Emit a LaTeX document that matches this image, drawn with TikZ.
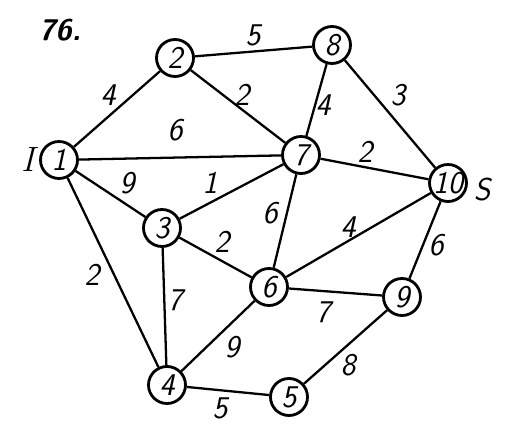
\documentclass[tikz,border=0pt]{standalone}
\usepackage{amsmath}
\usepackage{tikz}

\tikzset{
  vertex/.style={draw, circle, line width=1.6pt, minimum size=0.74cm, inner sep=0pt,
    font=\fontsize{18}{18}\selectfont\sffamily\itshape},
  lbl/.style={font=\fontsize{18}{18}\selectfont\sffamily\itshape},
  edge/.style={line width=1.3pt}
}

\begin{document}
\begin{tikzpicture}[x=0.02cm, y=-0.02cm]
\useasboundingbox (0,0) rectangle (507,448);

% vertices
\node[vertex] (n1) at (59,160) {1};
\node[vertex] (n2) at (175,58) {2};
\node[vertex] (n8) at (332,45) {8};
\node[vertex] (n7) at (301,155) {7};
\node[vertex] (n10) at (448,183) {10};
\node[vertex] (n3) at (162,228) {3};
\node[vertex] (n6) at (269,287) {6};
\node[vertex] (n9) at (402,297) {9};
\node[vertex] (n4) at (167,385) {4};
\node[vertex] (n5) at (289,397) {5};

% edges
\draw[edge] (n1) -- (n2);
\draw[edge] (n2) -- (n8);
\draw[edge] (n2) -- (n7);
\draw[edge] (n1) -- (n7);
\draw[edge] (n8) -- (n7);
\draw[edge] (n8) -- (n10);
\draw[edge] (n7) -- (n10);
\draw[edge] (n1) -- (n3);
\draw[edge] (n3) -- (n7);
\draw[edge] (n7) -- (n6);
\draw[edge] (n3) -- (n6);
\draw[edge] (n6) -- (n10);
\draw[edge] (n10) -- (n9);
\draw[edge] (n1) -- (n4);
\draw[edge] (n3) -- (n4);
\draw[edge] (n6) -- (n9);
\draw[edge] (n4) -- (n6);
\draw[edge] (n9) -- (n5);
\draw[edge] (n4) -- (n5);

% weights
\node[lbl] (w12) at (108,95) {4};
\node[lbl] (w28) at (253,35) {5};
\node[lbl] (w27) at (242,95) {2};
\node[lbl] (w17) at (175,130) {6};
\node[lbl] (w87) at (323,105) {4};
\node[lbl] (w810) at (398,95) {3};
\node[lbl] (w710) at (365,152) {2};
\node[lbl] (w13) at (127,183) {9};
\node[lbl] (w37) at (210,183) {1};
\node[lbl] (w76) at (270,213) {6};
\node[lbl] (w36) at (222,242) {2};
\node[lbl] (w610) at (348,227) {4};
\node[lbl] (w109) at (436,245) {6};
\node[lbl] (w14) at (92,275) {2};
\node[lbl] (w34) at (175,300) {7};
\node[lbl] (w69) at (323,312) {7};
\node[lbl] (w46) at (232,347) {9};
\node[lbl] (w95) at (348,365) {8};
\node[lbl] (w45) at (220,408) {5};

% marks
\node[lbl, font=\fontsize{20}{20}\selectfont\rmfamily\itshape] (src) at (28,160) {I};
\node[lbl] (snk) at (482,190) {S};
\node[lbl, font=\fontsize{17}{17}\selectfont\sffamily\bfseries\itshape] (title) at (60,30) {76.};

\end{tikzpicture}
\end{document}
